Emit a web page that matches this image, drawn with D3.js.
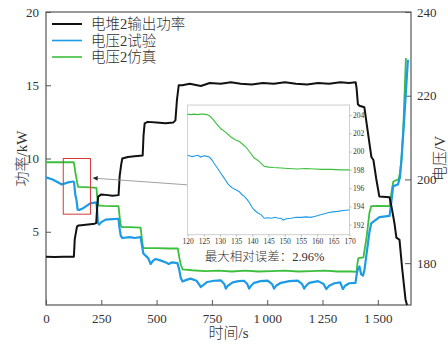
<!DOCTYPE html>
<html>
<head>
<meta charset="utf-8">
<script src="https://cdn.jsdelivr.net/npm/d3@7"></script>
<style>
  html, body { margin: 0; padding: 0; background: #fff; }
  svg text { font-family: "Liberation Serif", "Noto Sans CJK SC", serif; fill: #333; }
  svg text.cjk { font-weight: 300; }
</style>
</head>
<body>
<svg id="chart" width="448" height="344"></svg>
<script>
// Stack 2 output power (kW)
const powerTime = [0,40,80,126,130,140,146,160,190,220,227,232,236,250,280,300,328,333,340,345,370,400,437,441,446,460,500,540,575,585,592,600,616,650,700,740,790,836,880,930,980,1030,1080,1130,1180,1230,1280,1330,1370,1400,1404,1410,1417,1439,1455,1471,1480,1493,1507,1553,1562,1575,1584,1598,1610,1625,1632];
const powerValue = [3.3,3.28,3.3,3.3,4.5,5.35,5.42,5.45,5.5,5.55,5.6,6.8,7.4,7.55,7.5,7.45,7.5,8.8,9.6,10.0,10.1,10.15,10.2,11.6,12.4,12.5,12.45,12.4,12.45,12.6,14.0,15.0,15.0,15.1,14.95,15.15,15.1,15.2,15.1,15.05,15.15,15.1,15.2,15.1,15.05,15.15,15.1,15.2,15.15,15.2,14.8,13.7,13.6,13.5,11.8,10.1,9.9,8.6,7.4,7.35,6.7,5.6,4.6,4.45,2.5,0.4,0];

// Voltage 2, test (V)
const testTime = [0,30,72,100,124,127,132,138,143,150,170,200,228,231,235,240,250,270,300,328,332,338,345,380,400,428,433,440,450,462,473,484,496,520,545,555,570,594,602,609,617,635,654,680,700,712,729,760,790,806,813,822,844,870,895,910,918,927,941,970,1002,1022,1031,1040,1062,1100,1138,1158,1167,1176,1190,1230,1255,1267,1280,1304,1330,1342,1352,1371,1399,1405,1410,1417,1425,1433,1440,1462,1470,1507,1553,1562,1569,1591,1600,1607,1620,1636];
const testValue = [200.5,200.0,198.8,199.3,199.5,199.3,196.5,195.0,192.8,192.7,193.2,194.3,194.5,192.5,189.5,189.2,189.8,190.4,190.5,190.6,188.5,186.5,186.0,186.2,186.0,186.2,184.5,182.3,181.8,181.2,179.8,180.6,181.0,180.6,180.1,179.8,180.2,180.0,178.5,176.5,175.6,176.0,176.3,175.8,174.3,174.8,175.5,175.8,175.9,175.0,173.9,174.6,175.4,175.7,175.8,175.0,173.9,174.6,175.3,175.7,175.8,175.0,173.9,174.6,175.3,175.7,175.8,175.0,173.9,174.6,175.3,175.7,175.0,173.8,174.6,175.2,175.4,173.8,174.6,175.2,175.3,177.5,178.6,179.2,177.3,177.0,178.5,187.4,189.5,191.0,191.3,195.0,198.4,198.8,200.5,204.8,215.0,228.6];

// Voltage 2, simulation (V)
const simTime = [0,60,125,128,133,138,142,146,200,228,232,236,260,300,328,333,338,342,380,428,433,438,442,500,560,596,602,610,618,660,720,780,840,900,960,1020,1080,1140,1200,1260,1320,1380,1404,1408,1412,1435,1450,1462,1470,1503,1553,1562,1570,1593,1600,1607,1615,1622,1627];
const simValue = [204.1,204.1,204.1,203.4,201.6,200.2,198.9,198.2,198.1,198.0,195.5,193.8,193.7,193.6,193.6,191.0,189.0,188.6,188.6,188.5,186.0,184.0,183.6,183.6,183.5,183.5,181.5,179.5,178.5,178.3,178.1,178.2,178.0,178.2,178.0,178.1,178.2,178.0,178.1,178.2,178.0,178.0,177.9,180.0,181.2,181.4,186.5,192.0,193.6,193.7,193.6,197.0,199.5,200.0,201.5,204.8,212.0,222.0,229.0];

// Detail window 120–170 s
const zoomTestTime = [120,121,121.5,122.5,123.1,124.1,125,125.7,126.7,127.5,128.2,129.2,130.3,131.3,132.4,133.2,133.9,135,136,136.8,137.5,138.3,139.1,139.9,140.6,141.6,142.7,143.7,144.8,145.8,147,148,148.9,149.5,150.5,152,153.5,155.1,156.5,158,159.2,160.3,161.3,162.3,163.3,164.8,166.4,168,170];
const zoomTestValue = [199.6,199.5,199.45,199.55,199.6,199.4,199.55,199.5,199.4,199.1,198.7,198.2,197.6,197.1,196.5,196.2,196.0,195.8,195.6,195.3,195.1,194.8,194.4,193.9,193.6,193.3,193.1,192.7,192.75,192.7,192.8,192.7,192.7,192.5,192.65,192.7,192.8,192.8,192.85,192.8,192.9,193.0,193.1,193.2,193.3,193.4,193.45,193.55,193.6];
const zoomSimTime = [120,121,122,123,124,125,126,126.8,127.7,129,130.3,131.8,133.4,134.7,136,137,138,139.3,140.6,141.4,142.2,143,143.7,145,146.5,148.9,151,154,156.5,159.2,161.5,164.3,167,170];
const zoomSimValue = [204.1,204.05,204.1,204.05,204.1,204.1,204.05,203.9,203.6,203.0,202.5,202.1,201.6,201.3,201.1,200.8,200.5,199.9,199.3,199.1,198.9,198.6,198.4,198.3,198.25,198.2,198.15,198.1,198.15,198.1,198.05,198.05,198.0,198.0];

const timeTicks = [0,250,500,750,1000,1250,1500];
const powerTicks = [5,10,15,20];
const voltTicks = [180,200,220,240];
const zoomTimeTicks = [120,125,130,135,140,145,150,155,160,165,170];
const zoomVoltTicks = [192,194,196,198,200,202,204];

const seriesNames = ["电堆2输出功率","电压2试验","电压2仿真"];
const seriesColors = ["#111111","#1d9be6","#3cbf3c"];
const errorNote = "最大相对误差：2.96%";

// Red box around the detail window (time in s, voltage in V)
const boxTime = [78, 201];
const boxVolt = [191.7, 205];
// Inset frame placed in main-chart units (time s, power kW)
const insetTime = [640, 1372];
const insetPower = [4.8, 13.65];
// Pointer from inset to box (time s, power kW)
const pointerTime = [641, 214];
const pointerPower = [8.2, 8.66];

const svg = d3.select("#chart");
const padL = 46, padR = 411, padT = 12, padB = 305;

const x = d3.scaleLinear().domain([0, 1650]).range([padL, padR]);
const yP = d3.scaleLinear().domain([0, 20]).range([padB, padT]);
const yV = d3.scaleLinear().domain([170, 240]).range([padB, padT]);

const frameColor = "#555";

// frame
svg.append("rect").attr("x", padL).attr("y", padT)
  .attr("width", padR - padL).attr("height", padB - padT)
  .attr("fill", "none").attr("stroke", frameColor).attr("stroke-width", 1.2);

const fmtThousands = d => d >= 1000 ? d3.format(",")(d).replace(",", "\u2009") : String(d);

function styleAxis(g) {
  g.select(".domain").remove();
  g.selectAll(".tick line").attr("stroke", frameColor).attr("stroke-width", 1);
  g.selectAll(".tick text").attr("font-size", 13).attr("fill", "#333");
}

svg.append("g").attr("transform", `translate(0,${padB})`)
  .call(d3.axisBottom(x).tickValues(timeTicks).tickFormat(fmtThousands).tickSizeInner(-5).tickSizeOuter(0).tickPadding(9))
  .call(styleAxis);

svg.append("g").attr("transform", `translate(${padL},0)`)
  .call(d3.axisLeft(yP).tickValues(powerTicks).tickSizeInner(-5).tickSizeOuter(0).tickPadding(7))
  .call(styleAxis);

svg.append("g").attr("transform", `translate(${padR},0)`)
  .call(d3.axisRight(yV).tickValues(voltTicks).tickSizeInner(-6).tickSizeOuter(0).tickPadding(6))
  .call(styleAxis);

// axis titles
svg.append("text").attr("class", "cjk").attr("x", (padL + padR) / 2).attr("y", 338)
  .attr("text-anchor", "middle").attr("font-size", 15).text("时间/s");
svg.append("text").attr("class", "cjk").attr("transform", `translate(27,${(padT + padB) / 2}) rotate(-90)`)
  .attr("text-anchor", "middle").attr("font-size", 15).text("功率/kW");
svg.append("text").attr("class", "cjk").attr("transform", `translate(445,${(padT + padB) / 2}) rotate(-90)`)
  .attr("text-anchor", "middle").attr("font-size", 15).text("电压/V");

const plot = svg.append("g");
const zipPts = (ts, vs) => ts.map((t, i) => [t, vs[i]]);

const lineV = d3.line().x(d => x(d[0])).y(d => yV(d[1]));
const lineP = d3.line().x(d => x(d[0])).y(d => yP(d[1]));

plot.append("path").datum(zipPts(simTime, simValue)).attr("d", lineV)
  .attr("fill", "none").attr("stroke", seriesColors[2]).attr("stroke-width", 1.8).attr("stroke-linejoin", "round");
plot.append("path").datum(zipPts(testTime, testValue)).attr("d", lineV)
  .attr("fill", "none").attr("stroke", seriesColors[1]).attr("stroke-width", 2.2).attr("stroke-linejoin", "round");
plot.append("path").datum(zipPts(powerTime, powerValue)).attr("d", lineP)
  .attr("fill", "none").attr("stroke", seriesColors[0]).attr("stroke-width", 2).attr("stroke-linejoin", "round");

// red box
plot.append("rect")
  .attr("x", x(boxTime[0])).attr("y", yV(boxVolt[1]))
  .attr("width", x(boxTime[1]) - x(boxTime[0])).attr("height", yV(boxVolt[0]) - yV(boxVolt[1]))
  .attr("fill", "none").attr("stroke", "#d8383a").attr("stroke-width", 1);

// pointer arrow
svg.append("defs").append("marker").attr("id", "arrowHead")
  .attr("viewBox", "0 0 10 10").attr("refX", 9).attr("refY", 5)
  .attr("markerWidth", 8).attr("markerHeight", 6).attr("orient", "auto")
  .append("path").attr("d", "M0,0 L10,5 L0,10 Z").attr("fill", "#222");
plot.append("line")
  .attr("x1", x(pointerTime[0])).attr("y1", yP(pointerPower[0]))
  .attr("x2", x(pointerTime[1])).attr("y2", yP(pointerPower[1]))
  .attr("stroke", "#888").attr("stroke-width", 0.8).attr("marker-end", "url(#arrowHead)");

// inset
const ix0 = x(insetTime[0]), ix1 = x(insetTime[1]);
const iy0 = yP(insetPower[1]), iy1 = yP(insetPower[0]);
const xi = d3.scaleLinear().domain([120, 170]).range([ix0, ix1]);
const yi = d3.scaleLinear().domain([190.9, 205.1]).range([iy1, iy0]);
const inset = svg.append("g");
inset.append("rect").attr("x", ix0).attr("y", iy0).attr("width", ix1 - ix0).attr("height", iy1 - iy0)
  .attr("fill", "#fff").attr("stroke", "#cfcfcf").attr("stroke-width", 1);

const lineI = d3.line().x(d => xi(d[0])).y(d => yi(d[1]));
inset.append("path").datum(zipPts(zoomSimTime, zoomSimValue)).attr("d", lineI)
  .attr("fill", "none").attr("stroke", seriesColors[2]).attr("stroke-width", 1.1);
inset.append("path").datum(zipPts(zoomTestTime, zoomTestValue)).attr("d", lineI)
  .attr("fill", "none").attr("stroke", seriesColors[1]).attr("stroke-width", 1.1);

function styleInsetAxis(g) {
  g.select(".domain").remove();
  g.selectAll(".tick line").attr("stroke", "#aaa").attr("stroke-width", 0.8);
  g.selectAll(".tick text").attr("font-size", 7.5).attr("fill", "#555");
}
inset.append("g").attr("transform", `translate(0,${iy1})`)
  .call(d3.axisBottom(xi).tickValues(zoomTimeTicks).tickSizeInner(2).tickSizeOuter(0).tickPadding(2))
  .call(styleInsetAxis);
inset.append("g").attr("transform", `translate(${ix1},0)`)
  .call(d3.axisRight(yi).tickValues(zoomVoltTicks).tickSizeInner(2).tickSizeOuter(0).tickPadding(1.5))
  .call(styleInsetAxis);

inset.append("text").attr("class", "cjk").attr("x", (ix0 + ix1) / 2 - 4).attr("y", 261)
  .attr("text-anchor", "middle").attr("font-size", 12.5).text(errorNote);

// legend
const legend = svg.append("g");
seriesNames.forEach((name, i) => {
  const ly = 24 + i * 16.5;
  legend.append("line").attr("x1", 52).attr("x2", 82).attr("y1", ly).attr("y2", ly)
    .attr("stroke", seriesColors[i]).attr("stroke-width", i === 0 ? 2 : 1.6);
  legend.append("text").attr("class", "cjk").attr("x", 91).attr("y", ly + 5).attr("font-size", 14.5).text(name);
});
</script>
</body>
</html>
